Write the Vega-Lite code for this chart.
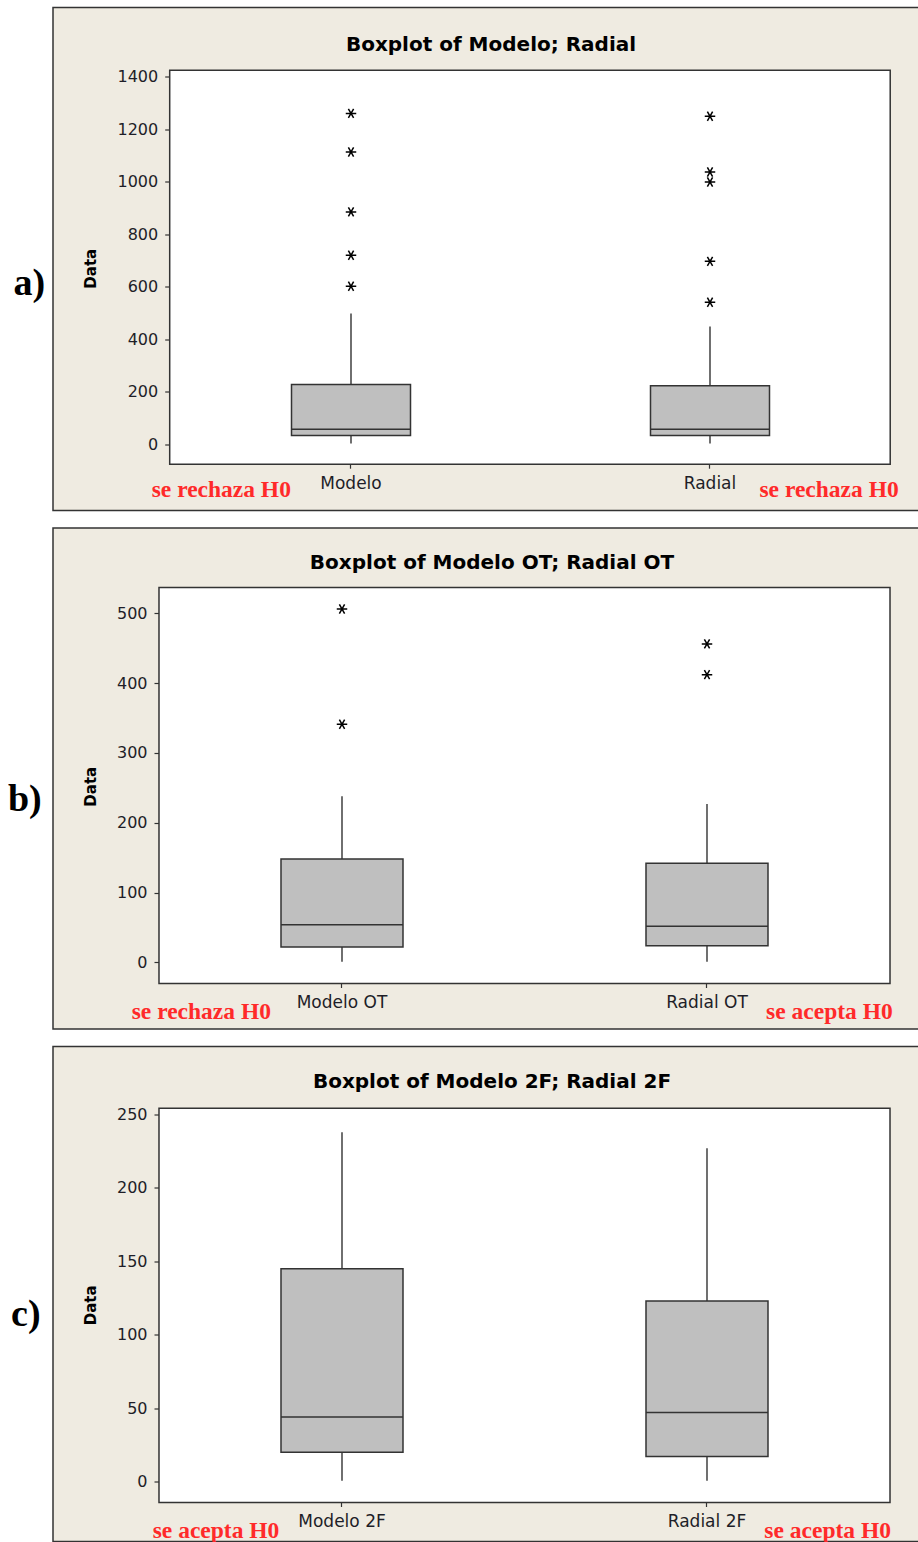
{
  "$schema": "https://vega.github.io/schema/vega-lite/v6.json",
  "background": "white",
  "padding": {"left": 7, "top": 6.5, "right": 0, "bottom": 0},
  "bounds": "flush",
  "spacing": 17.5,
  "config": {
    "view": {"fill": "#efebe1", "stroke": "#333333", "strokeWidth": 1.5},
    "axis": {"grid": false, "labelFont": "DejaVu Sans", "labelFontSize": 16, "labelColor": "#1e1e28", "tickColor": "#333333", "tickWidth": 1.2, "domain": false, "labelOverlap": false, "labelFlush": false},
    "title": {"font": "DejaVu Sans", "fontSize": 20, "fontWeight": "bold", "color": "#000000"}
  },
  "datasets": {
    "a_box": [
      {"var": "Modelo", "lo": 3, "q1": 34, "med": 58, "q3": 228, "hi": 498},
      {"var": "Radial", "lo": 3, "q1": 34, "med": 58, "q3": 223, "hi": 449}
    ],
    "a_out": [
      {"var": "Modelo", "value": 1260}, {"var": "Modelo", "value": 1113}, {"var": "Modelo", "value": 885},
      {"var": "Modelo", "value": 720}, {"var": "Modelo", "value": 602},
      {"var": "Radial", "value": 1249}, {"var": "Radial", "value": 1037}, {"var": "Radial", "value": 999},
      {"var": "Radial", "value": 697}, {"var": "Radial", "value": 541}
    ],
    "b_box": [
      {"var": "Modelo OT", "lo": 1, "q1": 22, "med": 54, "q3": 148, "hi": 238},
      {"var": "Radial OT", "lo": 1, "q1": 24, "med": 52, "q3": 142, "hi": 227}
    ],
    "b_out": [
      {"var": "Modelo OT", "value": 506}, {"var": "Modelo OT", "value": 341},
      {"var": "Radial OT", "value": 456}, {"var": "Radial OT", "value": 412}
    ],
    "c_box": [
      {"var": "Modelo 2F", "lo": 0.5, "q1": 20, "med": 44, "q3": 145, "hi": 238},
      {"var": "Radial 2F", "lo": 0.5, "q1": 17, "med": 47, "q3": 123, "hi": 227}
    ]
  },
  "vconcat": [
    {
      "width": 866,
      "height": 503,
      "title": {"text": "Boxplot of Modelo; Radial", "frame": "group", "anchor": "middle", "orient": "top", "offset": -63.5, "baseline": "alphabetic", "dx": 5},
      "layer": [
        {
          "layer": [
            {
              "data": {"values": [{}]},
              "mark": {"type": "rect", "fill": "white", "stroke": "#333333", "strokeWidth": 1.5},
              "encoding": {
                "x": {"datum": 0.495, "type": "quantitative", "scale": {"domain": [0.16992, 2.58218], "nice": false, "zero": false}, "axis": null},
                "x2": {"datum": 2.502},
                "y": {"datum": -75.4, "type": "quantitative", "title": "Data", "scale": {"domain": [-251.6, 1663.1], "nice": false, "zero": false},
                  "axis": {"title": "Data", "values": [0, 200, 400, 600, 800, 1000, 1200, 1400], "format": "d", "offset": -116.7, "tickSize": 5, "labelPadding": 7,
                    "titleFont": "DejaVu Sans", "titleFontSize": 15, "titleFontWeight": "bold", "titleColor": "#000000", "titleX": -71, "titleY": 260.7}},
                "y2": {"datum": 1424.4}
              }
            },
            {
              "data": {"values": [{"note": "se rechaza H0"}]},
              "mark": {"type": "text", "align": "left", "baseline": "alphabetic", "font": "Liberation Serif", "fontWeight": "bold", "fontSize": 23.5, "color": "#ff2a2a"},
              "encoding": {"text": {"field": "note"}, "x": {"datum": 0.4448, "type": "quantitative", "axis": null}, "y": {"datum": -199.8, "type": "quantitative", "title": "Data"}}
            },
            {
              "data": {"values": [{"note": "se rechaza H0"}]},
              "mark": {"type": "text", "align": "right", "baseline": "alphabetic", "font": "Liberation Serif", "fontWeight": "bold", "fontSize": 23.5, "color": "#ff2a2a"},
              "encoding": {"text": {"field": "note"}, "x": {"datum": 2.5256, "type": "quantitative", "axis": null}, "y": {"datum": -199.8, "type": "quantitative", "title": "Data"}}
            },
            {
              "data": {"values": [{"note": "a)"}]},
              "mark": {"type": "text", "align": "left", "baseline": "alphabetic", "font": "Liberation Serif", "fontWeight": "bold", "fontSize": 38, "color": "#000000"},
              "encoding": {"text": {"field": "note"}, "x": {"datum": 0.0599, "type": "quantitative", "axis": null}, "y": {"datum": 568, "type": "quantitative", "title": "Data"}}
            }
          ]
        },
        {
          "layer": [
            {
              "data": {"name": "a_box"},
              "mark": {"type": "rule", "color": "#333333", "strokeWidth": 1.4},
              "encoding": {
                "x": {"field": "var", "type": "nominal", "title": null, "scale": {"type": "band", "domain": ["Modelo", "Radial"], "paddingInner": 0.66852, "paddingOuter": 0.54039, "align": 0.61469}},
                "y": {"field": "q3", "type": "quantitative", "title": "Data", "scale": {"domain": [-251.6, 1663.1], "nice": false, "zero": false}},
                "y2": {"field": "hi"}
              }
            },
            {
              "data": {"name": "a_box"},
              "mark": {"type": "rule", "color": "#333333", "strokeWidth": 1.4},
              "encoding": {
                "x": {"field": "var", "type": "nominal", "title": null, "scale": {"type": "band", "domain": ["Modelo", "Radial"], "paddingInner": 0.66852, "paddingOuter": 0.54039, "align": 0.61469}},
                "y": {"field": "lo", "type": "quantitative", "title": "Data", "scale": {"domain": [-251.6, 1663.1], "nice": false, "zero": false}},
                "y2": {"field": "q1"}
              }
            },
            {
              "data": {"name": "a_box"},
              "mark": {"type": "bar", "fill": "#bfbfbf", "stroke": "#333333", "strokeWidth": 1.5},
              "encoding": {
                "x": {"field": "var", "type": "nominal", "title": null, "scale": {"type": "band", "domain": ["Modelo", "Radial"], "paddingInner": 0.66852, "paddingOuter": 0.54039, "align": 0.61469},
                  "axis": {"orient": "bottom", "title": null, "offset": -46.3, "tickSize": 4, "labelAngle": 0, "labelAlign": "center", "labelBaseline": "top", "labelFontSize": 17, "labelPadding": 7}},
                "y": {"field": "q1", "type": "quantitative", "title": "Data", "scale": {"domain": [-251.6, 1663.1], "nice": false, "zero": false}},
                "y2": {"field": "q3"}
              }
            },
            {
              "data": {"name": "a_box"},
              "mark": {"type": "bar", "fillOpacity": 0, "stroke": "#333333", "strokeWidth": 1.5},
              "encoding": {
                "x": {"field": "var", "type": "nominal", "title": null, "scale": {"type": "band", "domain": ["Modelo", "Radial"], "paddingInner": 0.66852, "paddingOuter": 0.54039, "align": 0.61469}},
                "y": {"field": "med", "type": "quantitative", "title": "Data", "scale": {"domain": [-251.6, 1663.1], "nice": false, "zero": false}},
                "y2": {"field": "med"}
              }
            },
            {
              "data": {"name": "a_out"},
              "mark": {"type": "point", "shape": "M-1,0L1,0M-0.5,-0.866L0.5,0.866M-0.5,0.866L0.5,-0.866", "filled": false, "stroke": "#000000", "strokeWidth": 1.5, "size": 110, "opacity": 1},
              "encoding": {
                "x": {"field": "var", "type": "nominal", "title": null, "scale": {"type": "band", "domain": ["Modelo", "Radial"], "paddingInner": 0.66852, "paddingOuter": 0.54039, "align": 0.61469}},
                "y": {"field": "value", "type": "quantitative", "title": "Data", "scale": {"domain": [-251.6, 1663.1], "nice": false, "zero": false}}
              }
            }
          ]
        }
      ],
      "resolve": {"scale": {"x": "independent"}, "axis": {"x": "independent"}}
    },
    {
      "width": 866,
      "height": 501,
      "title": {"text": "Boxplot of Modelo OT; Radial OT", "frame": "group", "anchor": "middle", "orient": "top", "offset": -61.2, "baseline": "alphabetic", "dx": 6},
      "layer": [
        {
          "layer": [
            {
              "data": {"values": [{}]},
              "mark": {"type": "rect", "fill": "white", "stroke": "#333333", "strokeWidth": 1.5},
              "encoding": {
                "x": {"datum": 0.4986, "type": "quantitative", "scale": {"domain": [0.20822, 2.58082], "nice": false, "zero": false}, "axis": null},
                "x2": {"datum": 2.5014},
                "y": {"datum": -30.1, "type": "quantitative", "title": "Data", "scale": {"domain": [-95.25, 622.0], "nice": false, "zero": false},
                  "axis": {"title": "Data", "values": [0, 100, 200, 300, 400, 500], "format": "d", "offset": -106, "tickSize": 5, "labelPadding": 7,
                    "titleFont": "DejaVu Sans", "titleFontSize": 15, "titleFontWeight": "bold", "titleColor": "#000000", "titleX": -60.5, "titleY": 258.2}},
                "y2": {"datum": 536.9}
              }
            },
            {
              "data": {"values": [{"note": "se rechaza H0"}]},
              "mark": {"type": "text", "align": "left", "baseline": "alphabetic", "font": "Liberation Serif", "fontWeight": "bold", "fontSize": 23.5, "color": "#ff2a2a"},
              "encoding": {"text": {"field": "note"}, "x": {"datum": 0.4238, "type": "quantitative", "axis": null}, "y": {"datum": -81.6, "type": "quantitative", "title": "Data"}}
            },
            {
              "data": {"values": [{"note": "se acepta H0"}]},
              "mark": {"type": "text", "align": "right", "baseline": "alphabetic", "font": "Liberation Serif", "fontWeight": "bold", "fontSize": 23.5, "color": "#ff2a2a"},
              "encoding": {"text": {"field": "note"}, "x": {"datum": 2.5088, "type": "quantitative", "axis": null}, "y": {"datum": -81.6, "type": "quantitative", "title": "Data"}}
            },
            {
              "data": {"values": [{"note": "b)"}]},
              "mark": {"type": "text", "align": "left", "baseline": "alphabetic", "font": "Liberation Serif", "fontWeight": "bold", "fontSize": 38, "color": "#000000"},
              "encoding": {"text": {"field": "note"}, "x": {"datum": 0.0849, "type": "quantitative", "axis": null}, "y": {"datum": 216.6, "type": "quantitative", "title": "Data"}}
            }
          ]
        },
        {
          "layer": [
            {
              "data": {"name": "b_box"},
              "mark": {"type": "rule", "color": "#333333", "strokeWidth": 1.4},
              "encoding": {
                "x": {"field": "var", "type": "nominal", "title": null, "scale": {"type": "band", "domain": ["Modelo OT", "Radial OT"], "paddingInner": 0.66575, "paddingOuter": 0.51918, "align": 0.60158}},
                "y": {"field": "q3", "type": "quantitative", "title": "Data", "scale": {"domain": [-95.25, 622.0], "nice": false, "zero": false}},
                "y2": {"field": "hi"}
              }
            },
            {
              "data": {"name": "b_box"},
              "mark": {"type": "rule", "color": "#333333", "strokeWidth": 1.4},
              "encoding": {
                "x": {"field": "var", "type": "nominal", "title": null, "scale": {"type": "band", "domain": ["Modelo OT", "Radial OT"], "paddingInner": 0.66575, "paddingOuter": 0.51918, "align": 0.60158}},
                "y": {"field": "lo", "type": "quantitative", "title": "Data", "scale": {"domain": [-95.25, 622.0], "nice": false, "zero": false}},
                "y2": {"field": "q1"}
              }
            },
            {
              "data": {"name": "b_box"},
              "mark": {"type": "bar", "fill": "#bfbfbf", "stroke": "#333333", "strokeWidth": 1.5},
              "encoding": {
                "x": {"field": "var", "type": "nominal", "title": null, "scale": {"type": "band", "domain": ["Modelo OT", "Radial OT"], "paddingInner": 0.66575, "paddingOuter": 0.51918, "align": 0.60158},
                  "axis": {"orient": "bottom", "title": null, "offset": -45.5, "tickSize": 4, "labelAngle": 0, "labelAlign": "center", "labelBaseline": "top", "labelFontSize": 17, "labelPadding": 7}},
                "y": {"field": "q1", "type": "quantitative", "title": "Data", "scale": {"domain": [-95.25, 622.0], "nice": false, "zero": false}},
                "y2": {"field": "q3"}
              }
            },
            {
              "data": {"name": "b_box"},
              "mark": {"type": "bar", "fillOpacity": 0, "stroke": "#333333", "strokeWidth": 1.5},
              "encoding": {
                "x": {"field": "var", "type": "nominal", "title": null, "scale": {"type": "band", "domain": ["Modelo OT", "Radial OT"], "paddingInner": 0.66575, "paddingOuter": 0.51918, "align": 0.60158}},
                "y": {"field": "med", "type": "quantitative", "title": "Data", "scale": {"domain": [-95.25, 622.0], "nice": false, "zero": false}},
                "y2": {"field": "med"}
              }
            },
            {
              "data": {"name": "b_out"},
              "mark": {"type": "point", "shape": "M-1,0L1,0M-0.5,-0.866L0.5,0.866M-0.5,0.866L0.5,-0.866", "filled": false, "stroke": "#000000", "strokeWidth": 1.5, "size": 110, "opacity": 1},
              "encoding": {
                "x": {"field": "var", "type": "nominal", "title": null, "scale": {"type": "band", "domain": ["Modelo OT", "Radial OT"], "paddingInner": 0.66575, "paddingOuter": 0.51918, "align": 0.60158}},
                "y": {"field": "value", "type": "quantitative", "title": "Data", "scale": {"domain": [-95.25, 622.0], "nice": false, "zero": false}}
              }
            }
          ]
        }
      ],
      "resolve": {"scale": {"x": "independent"}, "axis": {"x": "independent"}}
    },
    {
      "width": 866,
      "height": 495,
      "title": {"text": "Boxplot of Modelo 2F; Radial 2F", "frame": "group", "anchor": "middle", "orient": "top", "offset": -61.3, "baseline": "alphabetic", "dx": 6},
      "layer": [
        {
          "layer": [
            {
              "data": {"values": [{}]},
              "mark": {"type": "rect", "fill": "white", "stroke": "#333333", "strokeWidth": 1.5},
              "encoding": {
                "x": {"datum": 0.4986, "type": "quantitative", "scale": {"domain": [0.20822, 2.58082], "nice": false, "zero": false}, "axis": null},
                "x2": {"datum": 2.5014},
                "y": {"datum": -14.3, "type": "quantitative", "title": "Data", "scale": {"domain": [-40.9, 296.4], "nice": false, "zero": false},
                  "axis": {"title": "Data", "values": [0, 50, 100, 150, 200, 250], "format": "d", "offset": -106, "tickSize": 5, "labelPadding": 7,
                    "titleFont": "DejaVu Sans", "titleFontSize": 15, "titleFontWeight": "bold", "titleColor": "#000000", "titleX": -60.5, "titleY": 258.3}},
                "y2": {"datum": 254.4}
              }
            },
            {
              "data": {"values": [{"note": "se acepta H0"}]},
              "mark": {"type": "text", "align": "left", "baseline": "alphabetic", "font": "Liberation Serif", "fontWeight": "bold", "fontSize": 23.5, "color": "#ff2a2a"},
              "encoding": {"text": {"field": "note"}, "x": {"datum": 0.4814, "type": "quantitative", "axis": null}, "y": {"datum": -38.5, "type": "quantitative", "title": "Data"}}
            },
            {
              "data": {"values": [{"note": "se acepta H0"}]},
              "mark": {"type": "text", "align": "right", "baseline": "alphabetic", "font": "Liberation Serif", "fontWeight": "bold", "fontSize": 23.5, "color": "#ff2a2a"},
              "encoding": {"text": {"field": "note"}, "x": {"datum": 2.5041, "type": "quantitative", "axis": null}, "y": {"datum": -38.5, "type": "quantitative", "title": "Data"}}
            },
            {
              "data": {"values": [{"note": "c)"}]},
              "mark": {"type": "text", "align": "left", "baseline": "alphabetic", "font": "Liberation Serif", "fontWeight": "bold", "fontSize": 38, "color": "#000000"},
              "encoding": {"text": {"field": "note"}, "x": {"datum": 0.0932, "type": "quantitative", "axis": null}, "y": {"datum": 106.1, "type": "quantitative", "title": "Data"}}
            }
          ]
        },
        {
          "layer": [
            {
              "data": {"name": "c_box"},
              "mark": {"type": "rule", "color": "#333333", "strokeWidth": 1.4},
              "encoding": {
                "x": {"field": "var", "type": "nominal", "title": null, "scale": {"type": "band", "domain": ["Modelo 2F", "Radial 2F"], "paddingInner": 0.66575, "paddingOuter": 0.51918, "align": 0.60158}},
                "y": {"field": "q3", "type": "quantitative", "title": "Data", "scale": {"domain": [-40.9, 296.4], "nice": false, "zero": false}},
                "y2": {"field": "hi"}
              }
            },
            {
              "data": {"name": "c_box"},
              "mark": {"type": "rule", "color": "#333333", "strokeWidth": 1.4},
              "encoding": {
                "x": {"field": "var", "type": "nominal", "title": null, "scale": {"type": "band", "domain": ["Modelo 2F", "Radial 2F"], "paddingInner": 0.66575, "paddingOuter": 0.51918, "align": 0.60158}},
                "y": {"field": "lo", "type": "quantitative", "title": "Data", "scale": {"domain": [-40.9, 296.4], "nice": false, "zero": false}},
                "y2": {"field": "q1"}
              }
            },
            {
              "data": {"name": "c_box"},
              "mark": {"type": "bar", "fill": "#bfbfbf", "stroke": "#333333", "strokeWidth": 1.5},
              "encoding": {
                "x": {"field": "var", "type": "nominal", "title": null, "scale": {"type": "band", "domain": ["Modelo 2F", "Radial 2F"], "paddingInner": 0.66575, "paddingOuter": 0.51918, "align": 0.60158},
                  "axis": {"orient": "bottom", "title": null, "offset": -39, "tickSize": 4, "labelAngle": 0, "labelAlign": "center", "labelBaseline": "top", "labelFontSize": 17, "labelPadding": 7}},
                "y": {"field": "q1", "type": "quantitative", "title": "Data", "scale": {"domain": [-40.9, 296.4], "nice": false, "zero": false}},
                "y2": {"field": "q3"}
              }
            },
            {
              "data": {"name": "c_box"},
              "mark": {"type": "bar", "fillOpacity": 0, "stroke": "#333333", "strokeWidth": 1.5},
              "encoding": {
                "x": {"field": "var", "type": "nominal", "title": null, "scale": {"type": "band", "domain": ["Modelo 2F", "Radial 2F"], "paddingInner": 0.66575, "paddingOuter": 0.51918, "align": 0.60158}},
                "y": {"field": "med", "type": "quantitative", "title": "Data", "scale": {"domain": [-40.9, 296.4], "nice": false, "zero": false}},
                "y2": {"field": "med"}
              }
            }
          ]
        }
      ],
      "resolve": {"scale": {"x": "independent"}, "axis": {"x": "independent"}}
    }
  ]
}
